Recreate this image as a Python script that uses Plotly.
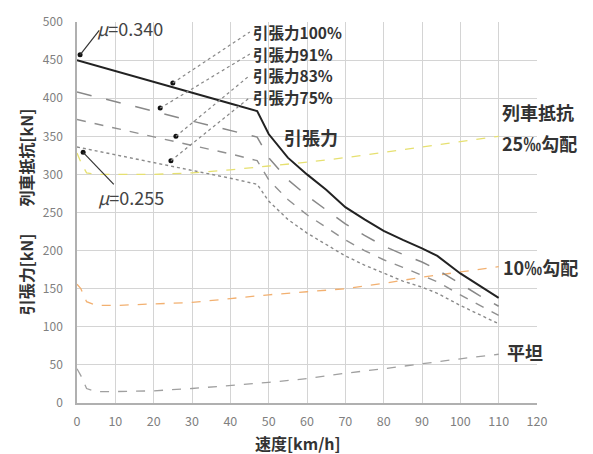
import plotly.graph_objects as go

FONT = "Noto Sans CJK JP"

# --- traction effort curves (km/h, kN)
spd_tr = [0, 10, 20, 30, 40, 47, 50, 55, 60, 65, 70, 75, 80, 85, 90, 94, 100, 105, 110]
tr100 = [450, 436, 422, 407, 393, 383, 353, 322, 300, 280, 257, 241, 226, 214, 203, 193, 170, 154, 138]
tr91 = [408, 396, 383, 370, 358, 349, 322, 293, 272, 253, 235, 220, 206, 195, 185, 175, 156, 141, 127]
tr83 = [372, 361, 350, 338, 327, 318, 293, 267, 247, 231, 214, 200, 188, 178, 168, 159, 142, 128, 115]
tr75 = [336, 326, 316, 306, 295, 287, 265, 241, 223, 208, 193, 181, 170, 160, 152, 144, 128, 116, 104]

# --- train resistance curves
spd_res = [0, 1, 2.5, 5, 10, 20, 30, 40, 50, 60, 70, 80, 90, 100, 110]
res25 = [328, 316, 302, 300, 300, 300, 302, 306, 311, 316, 322, 329, 336, 343, 350]
res10 = [156, 150, 133, 128, 128, 130, 132, 137, 142, 146, 150, 157, 165, 172, 179]
res0 = [45, 36, 19, 15, 15, 16, 19, 23, 27, 32, 39, 45, 52, 58, 64]

x_ticks = list(range(0, 121, 10))
y_ticks = list(range(0, 501, 50))

fig = go.Figure()

def add(x, y, color, width, dash):
    fig.add_trace(go.Scatter(x=x, y=y, mode="lines", line=dict(color=color, width=width, dash=dash),
                             hoverinfo="skip", showlegend=False))

add(spd_res, res0, "#a0a0a0", 1.3, "dash")
add(spd_res, res10, "#f2b070", 1.3, "dash")
add(spd_res, res25, "#e6e070", 1.3, "dash")
add(spd_tr, tr75, "#8a8a8a", 1.4, "dot")
add(spd_tr, tr83, "#909090", 1.4, "dash")
add(spd_tr, tr91, "#888888", 1.5, "longdash")
add(spd_tr, tr100, "#222222", 2, "solid")

# leader lines (dotted) and solid pointer lines
leaders = [((25.0, 420), (45.1, 487)), ((21.7, 387), (45.1, 458)),
           ((25.8, 350), (45.1, 430)), ((24.5, 318), (45.1, 401))]
for (x0, y0), (x1, y1) in leaders:
    fig.add_shape(type="line", x0=x0, y0=y0, x1=x1, y1=y1, xref="x", yref="y",
                  line=dict(color="#888888", width=1.2, dash="dot"))
pointers = [((0.8, 457), (5.8, 489)), ((1.6, 329), (9.6, 287))]
for (x0, y0), (x1, y1) in pointers:
    fig.add_shape(type="line", x0=x0, y0=y0, x1=x1, y1=y1, xref="x", yref="y",
                  line=dict(color="#333333", width=1.2))

dot_x = [p[0][0] for p in leaders] + [p[0][0] for p in pointers]
dot_y = [p[0][1] for p in leaders] + [p[0][1] for p in pointers]
fig.add_trace(go.Scatter(x=dot_x, y=dot_y, mode="markers", marker=dict(color="#111111", size=5),
                         hoverinfo="skip", showlegend=False))

def label(x, y, text, size=14, anchor="left", color="#333333"):
    fig.add_annotation(x=x, y=y, xref="x", yref="y", text=text, showarrow=False,
                       xanchor=anchor, yanchor="middle",
                       font=dict(family=FONT, size=size, color=color))

label(45.3, 487, "<b>引張力100%</b>", 15.5)
label(45.3, 458, "<b>引張力91%</b>", 15.5)
label(45.3, 430, "<b>引張力83%</b>", 15.5)
label(45.3, 401, "<b>引張力75%</b>", 15.5)
label(53.6, 349, "<b>引張力</b>", 18)
label(13.8, 492, "<i>μ</i>=0.340", 18, anchor="center", color="#444444")
label(14.1, 271, "<i>μ</i>=0.255", 18, anchor="center", color="#444444")

def side(ypx, text, xpx=503):
    fig.add_annotation(x=(xpx - 77) / 460, y=(403 - ypx) / 388, xref="paper", yref="paper",
                       text=text, showarrow=False, xanchor="left", yanchor="middle",
                       font=dict(family=FONT, size=18, color="#333333"))

side(107, "<b>列車抵抗</b>", 500)
side(138, "<b>25‰勾配</b>", 500)
side(264, "<b>10‰勾配</b>", 501)
side(351, "<b>平坦</b>", 505)

for ypx, txt in [(153, "<b>列車抵抗[kN]</b>"), (272, "<b>引張力[kN]</b>")]:
    fig.add_annotation(x=(26 - 77) / 460, y=(403 - ypx) / 388, xref="paper", yref="paper",
                       text=txt, showarrow=False, textangle=-90, xanchor="center", yanchor="middle",
                       font=dict(family=FONT, size=16, color="#333333"))

fig.add_annotation(x=(298 - 77) / 460, y=(403 - 444) / 388, xref="paper", yref="paper",
                   text="<b>速度[km/h]</b>", showarrow=False, xanchor="center", yanchor="middle",
                   font=dict(family=FONT, size=16, color="#333333"))

fig.update_layout(
    width=593, height=454, autosize=False,
    margin=dict(l=77, r=56, t=15, b=51),
    paper_bgcolor="white", plot_bgcolor="white",
    font=dict(family=FONT, color="#777777", size=12),
    xaxis=dict(range=[0, 120], tickvals=x_ticks, ticktext=[str(v) for v in x_ticks],
               showgrid=True, gridcolor="#d4d4d4", gridwidth=1,
               showline=True, linecolor="#b0b0b0", linewidth=1.5, mirror=False,
               zeroline=False, ticks="", ticklabelstandoff=6,
               tickfont=dict(size=12.5, color="#808080")),
    yaxis=dict(range=[0, 500], tickvals=y_ticks, ticktext=[str(v) for v in y_ticks],
               showgrid=True, gridcolor="#d4d4d4", gridwidth=1,
               showline=True, linecolor="#b0b0b0", linewidth=1.5,
               zeroline=False, ticks="", ticklabelstandoff=10,
               tickfont=dict(size=12, color="#808080")),
)

fig.write_html("out.html")
